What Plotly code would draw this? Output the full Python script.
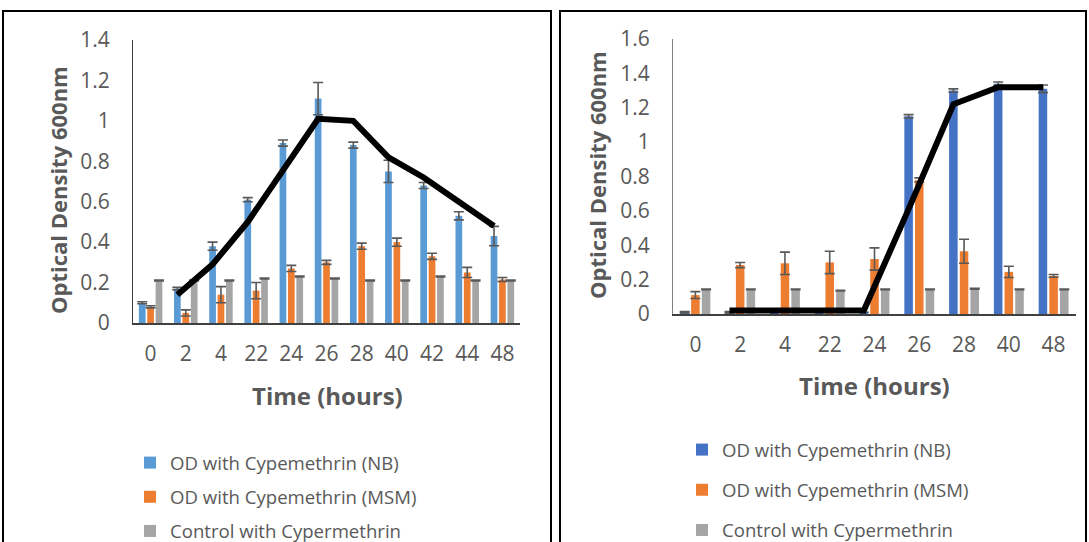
import plotly.graph_objects as go

# ---------------- data ----------------
hours_left = ["0", "2", "4", "22", "24", "26", "28", "40", "42", "44", "48"]
nb_left = [0.10, 0.17, 0.38, 0.61, 0.89, 1.11, 0.88, 0.75, 0.68, 0.53, 0.43]
nb_left_err = [0.005, 0.006, 0.02, 0.01, 0.015, 0.08, 0.015, 0.055, 0.015, 0.02, 0.048]
msm_left = [0.08, 0.05, 0.14, 0.16, 0.27, 0.30, 0.38, 0.40, 0.33, 0.25, 0.215]
msm_left_err = [0.005, 0.015, 0.04, 0.04, 0.015, 0.01, 0.015, 0.02, 0.015, 0.025, 0.01]
ctrl_left = [0.21, 0.21, 0.21, 0.22, 0.23, 0.22, 0.21, 0.21, 0.23, 0.21, 0.21]
ctrl_left_err = [0.002] * 11
trend_left = [None, 0.14, 0.29, 0.50, 0.75, 1.01, 1.00, 0.82, 0.72, 0.60, 0.48]

hours_right = ["0", "2", "4", "22", "24", "26", "28", "40", "48"]
nb_right = [0.01, 0.01, 0.01, 0.01, 0.01, 1.15, 1.30, 1.34, 1.31]
nb_right_err = [0.004, 0.004, 0.0, 0.0, 0.0, 0.01, 0.01, 0.01, 0.022]
msm_right = [0.11, 0.285, 0.295, 0.30, 0.32, 0.78, 0.365, 0.245, 0.222]
msm_right_err = [0.02, 0.015, 0.065, 0.065, 0.065, 0.012, 0.07, 0.033, 0.008]
ctrl_right = [0.143, 0.143, 0.143, 0.136, 0.143, 0.143, 0.147, 0.143, 0.143]
ctrl_right_err = [0.002] * 9
trend_right = [None, 0.02, 0.02, 0.02, 0.02, 0.61, 1.22, 1.32, 1.32]

series_names = ["OD with Cypemethrin (NB)", "OD with Cypemethrin (MSM)", "Control with Cypermethrin"]

# ---------------- style ----------------
W, H = 1089, 542
BLUE_L = "#5B9BD5"
BLUE_R = "#4472C4"
ORANGE = "#ED7D31"
GRAY = "#A5A5A5"
TXT = "#595959"
FONT = "Open Sans"
BARGAP = 0.285
SLOT = (1 - BARGAP) / 3


def px_x(p):
    return p / W


def px_y(p):
    return 1 - p / H


fig = go.Figure()


def add_panel(cats, series, errs, trend, colors, xa, ya, legend):
    idx = list(range(len(cats)))
    for name, vals, err, col in zip(series_names, series, errs, colors):
        fig.add_trace(go.Bar(
            x=idx, y=vals, name=name, marker=dict(color=col, line=dict(width=0)),
            error_y=dict(type="data", array=err, visible=True, color=TXT,
                         thickness=1.6, width=5),
            xaxis=xa, yaxis=ya, legend=legend, legendgroup=legend + name,
            offsetgroup=name,
        ))
    fig.add_trace(go.Scatter(
        x=[i - SLOT for i in idx], y=trend, mode="lines",
        line=dict(color="black", width=6), showlegend=False,
        xaxis=xa, yaxis=ya, hoverinfo="skip",
    ))


add_panel(hours_left, [nb_left, msm_left, ctrl_left],
          [nb_left_err, msm_left_err, ctrl_left_err], trend_left,
          [BLUE_L, ORANGE, GRAY], "x", "y", "legend")
add_panel(hours_right, [nb_right, msm_right, ctrl_right],
          [nb_right_err, msm_right_err, ctrl_right_err], trend_right,
          [BLUE_R, ORANGE, GRAY], "x2", "y2", "legend2")

tickfont = dict(family=FONT, size=21, color=TXT)
common_x = dict(showgrid=False, zeroline=False, showline=True, ticks="",
                tickfont=tickfont, ticklabelstandoff=11, fixedrange=True,
                automargin=False)
common_y = dict(showgrid=False, zeroline=False, showline=True, ticks="",
                tickfont=tickfont, ticklabelstandoff=18, dtick=0.2, fixedrange=True,
                automargin=False)

LEG_SIZE = 18.6

fig.update_layout(
    width=W, height=H, margin=dict(l=0, r=0, t=0, b=0, autoexpand=False),
    paper_bgcolor="white", plot_bgcolor="white",
    barmode="group", bargap=BARGAP, bargroupgap=0.2,
    font=dict(family=FONT, color=TXT),
    xaxis=dict(common_x, domain=[px_x(133), px_x(520)], range=[-0.5, 10.5],
               tickvals=list(range(len(hours_left))), ticktext=hours_left,
               linecolor="#404040", linewidth=1.5, anchor="y"),
    yaxis=dict(common_y, domain=[px_y(323), px_y(40)], range=[0, 1.4],
               linecolor="#404040", linewidth=1, anchor="x"),
    xaxis2=dict(common_x, domain=[px_x(673), px_x(1076)], range=[-0.5, 8.5],
                tickvals=list(range(len(hours_right))), ticktext=hours_right,
                linecolor="#404040", linewidth=1.5, anchor="y2"),
    yaxis2=dict(common_y, domain=[px_y(314), px_y(39)], range=[0, 1.6],
                linecolor="#808080", linewidth=1, anchor="x2"),
    legend=dict(x=px_x(130), y=px_y(444), xanchor="left", yanchor="top",
                font=dict(family=FONT, size=LEG_SIZE, color=TXT),
                tracegroupgap=7, bgcolor="rgba(0,0,0,0)"),
    legend2=dict(x=px_x(682), y=px_y(431), xanchor="left", yanchor="top",
                 font=dict(family=FONT, size=LEG_SIZE, color=TXT),
                 tracegroupgap=13, bgcolor="rgba(0,0,0,0)"),
    showlegend=True,
)

xtitle_font = dict(family=FONT, size=24, color=TXT)
ytitle_font = dict(family=FONT, size=22, color=TXT)
common_ann = dict(xref="paper", yref="paper", showarrow=False,
                  xanchor="center", yanchor="middle")
fig.add_annotation(text="<b>Optical Density 600nm</b>", textangle=-90,
                   x=px_x(58), y=px_y(190), font=ytitle_font, **common_ann)
fig.add_annotation(text="<b>Time (hours)</b>", x=px_x(327), y=px_y(395),
                   font=xtitle_font, **common_ann)
fig.add_annotation(text="<b>Optical Density 600nm</b>", textangle=-90,
                   x=px_x(597), y=px_y(175), font=ytitle_font, **common_ann)
fig.add_annotation(text="<b>Time (hours)</b>", x=px_x(874), y=px_y(385),
                   font=xtitle_font, **common_ann)

# panel frames
fig.add_shape(type="rect", xref="paper", yref="paper",
              x0=px_x(3), x1=px_x(551), y0=-0.05, y1=px_y(11),
              line=dict(color="black", width=2))
fig.add_shape(type="rect", xref="paper", yref="paper",
              x0=px_x(560), x1=px_x(1086), y0=-0.05, y1=px_y(11),
              line=dict(color="black", width=2))

fig.write_html("out.html", config={"displayModeBar": False},
               post_script="document.body.style.margin='0';")
